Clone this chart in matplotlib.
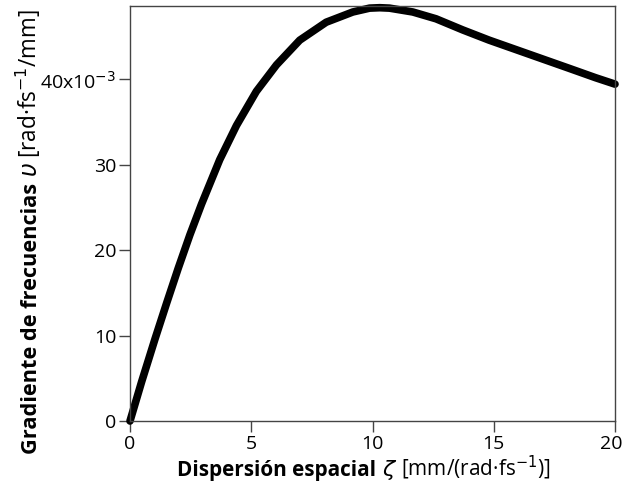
import matplotlib.pyplot as plt
from matplotlib.ticker import FuncFormatter
from matplotlib.transforms import ScaledTranslation

plt.rcParams['font.family'] = ['Open Sans', 'DejaVu Sans']
plt.rcParams['mathtext.fontset'] = 'dejavusans'

# spatial dispersion zeta [mm/(rad fs^-1)] and frequency gradient (x10^-3)
zeta = [0.0, 0.48, 1.03, 1.51, 1.99, 2.47, 2.95, 3.70, 4.39, 5.21, 6.04,
        7.0, 8.09, 9.19, 9.88, 10.3, 10.70, 11.66, 12.62, 13.72, 14.81,
        15.91, 17.01, 18.11, 19.2, 20.0]
grad = [0.0, 4.6, 9.6, 13.8, 17.9, 21.8, 25.4, 30.6, 34.6, 38.6, 41.7,
        44.6, 46.7, 47.9, 48.35, 48.4, 48.35, 47.9, 47.1, 45.8, 44.6,
        43.5, 42.4, 41.3, 40.2, 39.45]

xticks = [0, 5, 10, 15, 20]
yticks = [0, 10, 20, 30, 40]

W, H = 624, 495
fig = plt.figure(figsize=(W / 100, H / 100), dpi=100)
ax = fig.add_axes([130 / W, 74 / H, 485 / W, 415 / H])

ax.plot(zeta, [g * 1e-3 for g in grad], color='black', lw=5.5,
        solid_capstyle='round', solid_joinstyle='round', clip_on=False)

ax.set_xlim(0, 20)
ax.set_ylim(0, 0.0486)
ax.set_xticks(xticks)
ax.set_yticks([t * 1e-3 for t in yticks])


def yfmt(v, pos):
    n = int(round(v * 1e3))
    if n == 40:
        return r'40x10$^{-3}$'
    return str(n)


ax.yaxis.set_major_formatter(FuncFormatter(yfmt))
ax.tick_params(direction='out', length=8, width=1, color='#444444',
               labelsize=14, pad=2)
for s in ax.spines.values():
    s.set_color('#444444')
    s.set_linewidth(1)

# last x tick label sits right at the figure edge, nudge it in a bit
last = ax.get_xticklabels()[-1]
last.set_transform(last.get_transform() + ScaledTranslation(-4 / 100, 0, fig.dpi_scale_trans))

# axis titles are built from pieces with different weights/sizes;
# each piece is sized to span a given length in pixels
renderer = fig.canvas.get_renderer()


def put_pieces(pieces, x0, y0, vertical):
    pos = x0 if not vertical else y0
    for txt, kw, gap, span in pieces:
        pos += gap
        if vertical:
            t = fig.text(x0 / W, pos / H, txt, rotation=90, rotation_mode='anchor',
                         ha='left', va='baseline', **kw)
            size = lambda: t.get_window_extent(renderer).height
        else:
            t = fig.text(pos / W, y0 / H, txt, ha='left', va='baseline', **kw)
            size = lambda: t.get_window_extent(renderer).width
        if span:
            t.set_fontsize(t.get_fontsize() * span / size())
        pos += size()


x_pieces = [('Dispersión espacial', dict(fontsize=15, fontweight='bold'), 0, 200),
            (r'$\zeta$', dict(fontsize=16), 6, None),
            (r'[mm/(rad·fs$^{-1}$)]', dict(fontsize=14), 4, 150)]
y_pieces = [('Gradiente de frecuencias', dict(fontsize=15, fontweight='bold'), 0, 271),
            (r'$\upsilon$', dict(fontsize=17), 6, None),
            (r'[rad·fs$^{-1}$/mm]', dict(fontsize=15), 4, 150)]

put_pieces(x_pieces, 177, H - 476, False)
put_pieces(y_pieces, 37, H - 454, True)

fig.savefig('out.png', dpi=100)
